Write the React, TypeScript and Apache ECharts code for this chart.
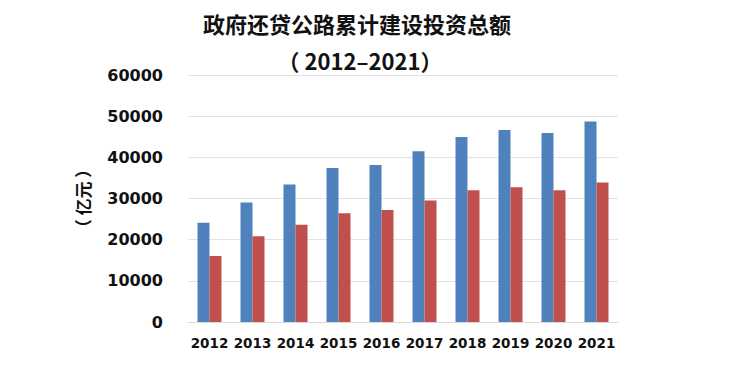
import React, { useEffect, useRef } from "react";
import * as echarts from "echarts";

const categories = ["2012", "2013", "2014", "2015", "2016", "2017", "2018", "2019", "2020", "2021"];
const seriesA = [24100, 29050, 33400, 37400, 38150, 41500, 44950, 46650, 45900, 48700];
const seriesB = [16050, 20800, 23600, 26400, 27200, 29500, 32000, 32750, 32000, 33900];

export default function App() {
  const ref = useRef<HTMLDivElement>(null);
  useEffect(() => {
    const chart = echarts.init(ref.current!, null, { renderer: "svg" });
    const font = "'DejaVu Sans', 'Noto Sans CJK SC', sans-serif";
    const titleStyle = {
      fontFamily: "'Noto Sans CJK SC', sans-serif",
      fontSize: 22,
      fontWeight: "bold",
      color: "#111",
      lineHeight: 22,
    };
    chart.setOption({
      animation: false,
      title: [
        {
          text: "政府还贷公路累计建设投资总额",
          left: 349,
          top: 4,
          padding: 0,
          textAlign: "center",
          textStyle: titleStyle,
        },
        {
          text: "（ 2012–2021）",
          left: 352,
          top: 41,
          padding: 0,
          textAlign: "center",
          textStyle: titleStyle,
        },
      ],
      grid: { left: 180, right: 118, top: 67, bottom: 50 },
      xAxis: {
        type: "category",
        data: categories,
        axisLine: { lineStyle: { color: "#d9d9d9", width: 1 } },
        axisTick: { show: false },
        axisLabel: {
          interval: 0,
          color: "#111",
          fontWeight: "bold",
          fontSize: 13.5,
          fontFamily: font,
          margin: 14,
        },
      },
      yAxis: {
        type: "value",
        min: 0,
        max: 60000,
        interval: 10000,
        name: "（ 亿元 ）",
        nameLocation: "middle",
        nameGap: 97,
        nameRotate: 90,
        nameTextStyle: {
          fontFamily: "'Noto Sans CJK SC', sans-serif",
          fontSize: 17,
          fontWeight: "bold",
          color: "#111",
        },
        axisLine: { show: false },
        axisTick: { show: false },
        splitLine: { lineStyle: { color: "#e3e3e3", width: 1 } },
        axisLabel: {
          color: "#111",
          fontWeight: "bold",
          fontSize: 16,
          fontFamily: font,
          margin: 25,
          formatter: (v: number) => String(v),
        },
      },
      series: [
        {
          type: "bar",
          data: seriesA,
          barWidth: 12,
          barGap: "0%",
          itemStyle: { color: "#4f81bd" },
        },
        {
          type: "bar",
          data: seriesB,
          barWidth: 12,
          barGap: "0%",
          itemStyle: { color: "#c0504d" },
        },
      ],
    });
    return () => chart.dispose();
  }, []);
  return <div ref={ref} style={{ width: 728, height: 364 }} />;
}
